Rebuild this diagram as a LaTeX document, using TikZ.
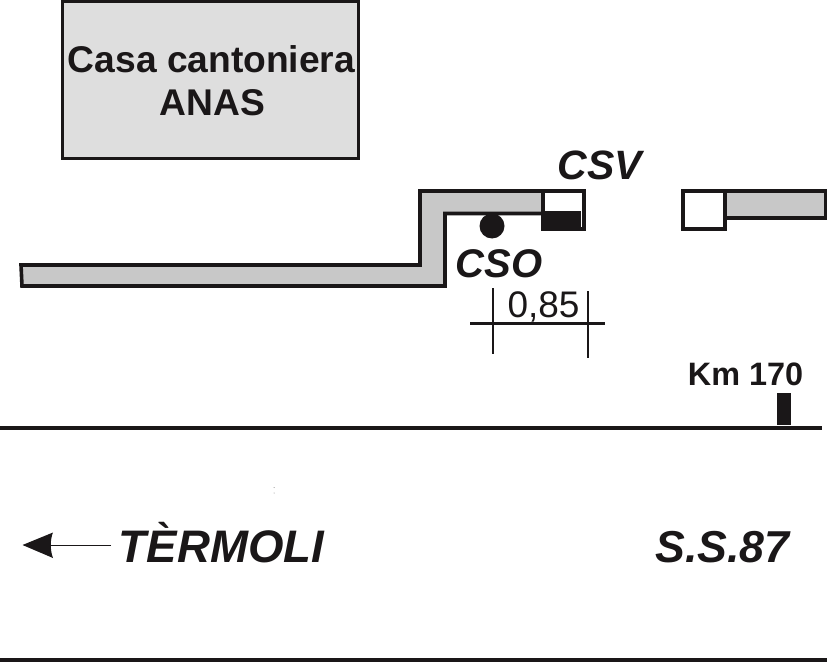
\documentclass[tikz,border=0pt]{standalone}
\usepackage{fontspec}
\setmainfont{Liberation Sans}
\definecolor{inkk}{HTML}{1A1718}
\definecolor{wallgrey}{HTML}{C8C8C8}
\definecolor{housegrey}{HTML}{DEDEDE}
\tikzset{
  wall/.style={draw=inkk,line width=3.6pt,line join=miter,fill=wallgrey},
  gatebox/.style={draw=inkk,line width=3.6pt,fill=white},
  road/.style={draw=inkk,line width=3.2pt},
  dimline/.style={draw=inkk,line width=2.2pt},
  lab/.style={inner sep=0pt,anchor=base,text=inkk},
}
\begin{document}
\begin{tikzpicture}[x=1pt,y=-1pt]
\useasboundingbox (0,0) rectangle (827,663);
% house
\node[draw=inkk,line width=3.4pt,fill=housegrey,minimum width=296pt,minimum height=157pt,inner sep=0pt] (house) at (210.5,80) {};
\node[lab,font=\fontsize{37.2}{39}\selectfont\bfseries] (casa) at (211.5,73) {Casa cantoniera};
\node[lab,font=\fontsize{37.2}{39}\selectfont\bfseries] (anas) at (212.5,116) {ANAS};
% wall left
\draw[wall] (21,265) -- (420,265) -- (420,191) -- (543,191) -- (543,213.5) -- (445,213.5) -- (445,286) -- (22,286) -- cycle;
% gate left
\node[gatebox,minimum width=41pt,minimum height=38pt,inner sep=0pt] (gateL) at (563.5,210) {};
\fill[inkk] (542,211) rectangle (581,230);
% wall right
\draw[wall] (725,191) -- (826,191) -- (826,218) -- (725,218) -- cycle;
\node[gatebox,minimum width=42pt,minimum height=38pt,inner sep=0pt] (gateR) at (704,210) {};
% CSO
\node[circle,fill=inkk,minimum size=25pt,inner sep=0pt] (cso) at (492,226) {};
\node[lab,font=\fontsize{40}{42}\selectfont\bfseries\itshape] (csolab) at (499,277.5) {CSO};
\node[lab,font=\fontsize{41}{43}\selectfont\bfseries\itshape] (csvlab) at (600,180) {CSV};
% dimension
\coordinate (d1a) at (493,288); \coordinate (d1b) at (493,354);
\coordinate (d2a) at (588,291); \coordinate (d2b) at (588,358);
\coordinate (d3a) at (470,323.5); \coordinate (d3b) at (605,323.5);
\draw[dimline] (d1a) -- (d1b);
\draw[dimline] (d2a) -- (d2b);
\draw[dimline] (d3a) -- (d3b);
\node[lab,font=\fontsize{37}{39}\selectfont] (dim) at (543.5,317) {0,85};
% km
\node[lab,font=\fontsize{32.4}{34}\selectfont\bfseries] (km) at (745.5,385) {Km 170};
\fill[inkk] (777,393) rectangle (791,425);
% road
\coordinate (r1a) at (0,428); \coordinate (r1b) at (822,428);
\coordinate (r2a) at (0,660); \coordinate (r2b) at (827,660);
\draw[road] (r1a) -- (r1b);
\draw[road] (r2a) -- (r2b);
% arrow
\coordinate (ar1) at (111,545); \coordinate (ar2) at (50,545);
\draw[draw=inkk,line width=1pt] (ar1) -- (ar2);
\fill[inkk] (22.5,545) -- (53,532.5) .. controls (50,540) and (50,550) .. (53,558) -- cycle;
\node[lab,font=\fontsize{45.6}{48}\selectfont\bfseries\itshape] (term) at (221.5,562) {TÈRMOLI};
\node[lab,font=\fontsize{44.7}{47}\selectfont\bfseries\itshape] (ss) at (722.5,562) {S.S.87};
% specks
\fill[gray] (274,487.5) circle (.5pt) (274,493) circle (.5pt);
\end{tikzpicture}
\end{document}
